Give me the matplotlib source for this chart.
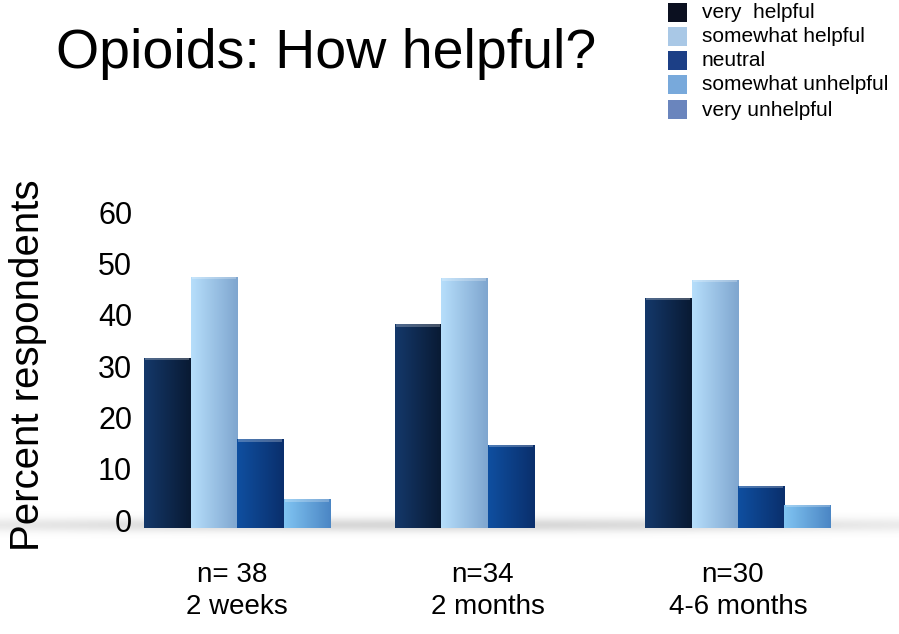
import numpy as np
import matplotlib
matplotlib.use("Agg")
import matplotlib.pyplot as plt
from matplotlib.colors import LinearSegmentedColormap
from matplotlib.patches import Rectangle

plt.rcParams['font.family'] = ['Liberation Sans', 'DejaVu Sans']

# ---- data ----
groups = ["2 weeks", "2 months", "4-6 months"]
n_labels = ["n= 38", "n=34", "n=30"]
series = ["very  helpful", "somewhat helpful", "neutral", "somewhat unhelpful", "very unhelpful"]
very_helpful = [31.6, 38.2, 43.3]
somewhat_helpful = [47.4, 47.1, 46.8]
neutral = [15.8, 14.7, 6.7]
somewhat_unhelpful = [4.0, 0.0, 3.0]
very_unhelpful = [0.0, 0.0, 0.0]
values = [very_helpful, somewhat_helpful, neutral, somewhat_unhelpful, very_unhelpful]
yticks = [0, 10, 20, 30, 40, 50, 60]

# ---- style ----
legend_colors = ['#0b1020', '#a9c8e6', '#1c3f86', '#78a9db', '#6a85bd']
grad_left = ['#14386a', '#b6defb', '#0f4fa0', '#80c4f2', '#7f9ccc']
grad_right = ['#091a33', '#7fa6cf', '#0a2f6c', '#4b86c4', '#4f6a9a']

W, H = 899, 634
fig = plt.figure(figsize=(W / 100, H / 100), dpi=100)

def fx(x):
    return x / W

def fy(y):
    return 1 - y / H

# soft floor shadow
bg = fig.add_axes([0, 0, 1, 1], zorder=0)
bg.set_xlim(0, W)
bg.set_ylim(H, 0)
bg.axis('off')
yy = np.linspace(500, 550, 100)
xx = np.linspace(0, W, 300)
prof = np.exp(-((yy - 525) / 7.0) ** 2)
xprof = 0.5 + 0.5 * np.clip(np.sin(np.pi * (xx + 40) / (W + 40)), 0, 1)
shade = prof[:, None] * xprof[None, :]
img = np.zeros((len(yy), len(xx), 4))
img[..., :3] = 0.45
img[..., 3] = shade * 0.28
bg.imshow(img, extent=[0, W, 550, 500], aspect='auto', interpolation='bilinear')

# main axes: value v -> pixel 520 - 5.13 v
px_per = 5.13
y0 = 520
ax_top_px, ax_bot_px = 200, 528
ax_left_px = 135
ax = fig.add_axes([fx(ax_left_px), fy(ax_bot_px), fx(W - ax_left_px), (ax_bot_px - ax_top_px) / H], zorder=1)
ax.patch.set_alpha(0)
ax.set_ylim((y0 - ax_bot_px) / px_per, (y0 - ax_top_px) / px_per)
g_px = [237, 490, 738]
unit = (g_px[2] - g_px[0]) / 2.0
ax.set_xlim((ax_left_px - g_px[0]) / unit, (W - g_px[0]) / unit)

floor = (y0 - 528) / px_per
bw = 46.5 / unit
x = np.arange(len(groups))
for i, (name, vals) in enumerate(zip(series, values)):
    off = (i - 2) * bw
    cm = LinearSegmentedColormap.from_list('g%d' % i, [grad_left[i], grad_right[i]])
    for gx, v in zip(x, vals):
        if v <= 0:
            continue
        l = gx + off
        bars = ax.bar(l, v - floor, width=bw, bottom=floor, align='edge',
                      color=grad_right[i], edgecolor='none', zorder=2)
        rect = bars[0]
        grad = np.linspace(0, 1, 64)[None, :]
        im = ax.imshow(grad, cmap=cm, extent=[l, l + bw, floor, v], aspect='auto',
                       origin='lower', zorder=3, interpolation='bilinear')
        im.set_clip_path(rect)
        ax.add_patch(Rectangle((l + bw * 0.03, v - 0.5), bw * 0.94, 0.5,
                               color='white', alpha=0.25, lw=0, zorder=4))

ax.set_xticks([])
ax.set_yticks(yticks)
ax.set_yticklabels([str(t) for t in yticks], fontsize=22)
ax.tick_params(axis='y', length=0, pad=2)
for s in ax.spines.values():
    s.set_visible(False)

# category labels
for gx, nl, gl in zip(x, n_labels, groups):
    ax.text(gx - 0.02, (y0 - 575) / px_per, nl, ha='center', va='center', fontsize=20, clip_on=False)
    ax.text(gx, (y0 - 607) / px_per, gl, ha='center', va='center', fontsize=20, clip_on=False)

# axis label
fig.text(fx(28), fy(365), "Percent respondents", rotation=90, ha='center', va='center', fontsize=29)

# title
fig.text(fx(56), fy(54), "Opioids: How helpful?", ha='left', va='center', fontsize=40)

# legend
rows = [13, 37, 61, 85, 110]
for name, c, r in zip(series, legend_colors, rows):
    fig.patches.append(Rectangle((fx(668), fy(r + 9)), fx(19), 19 / H, facecolor=c,
                                 edgecolor='none', transform=fig.transFigure, figure=fig))
    fig.text(fx(702), fy(r), name, ha='left', va='center', fontsize=15)

fig.savefig("out.png", dpi=100)
